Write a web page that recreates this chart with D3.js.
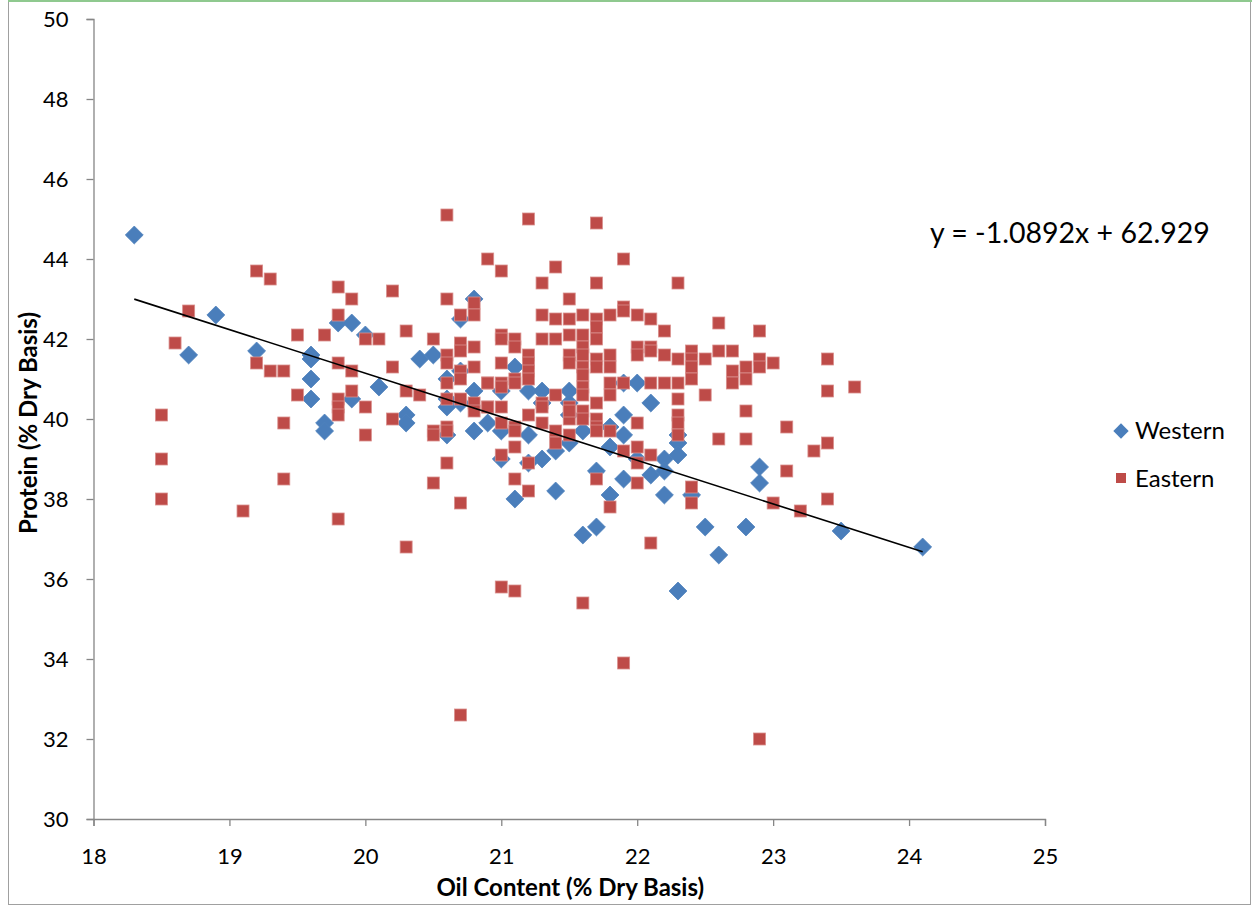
<!DOCTYPE html>
<html>
<head>
<meta charset="utf-8">
<script src="https://cdn.jsdelivr.net/npm/d3@7"></script>
<style>
  body { margin: 0; background: #fff; }
  text { font-family: Lato, "Open Sans", sans-serif; fill: #000; }
</style>
</head>
<body>
<div id="chart"></div>
<script>
// Western samples [oil, protein]
var western = [
  [18.3,44.6],[18.7,41.6],[18.9,42.6],[19.2,41.7],[19.6,41.6],[19.6,41.5],[19.6,41.0],[19.6,40.5],
  [19.7,39.9],[19.7,39.7],[19.8,42.4],[19.9,42.4],[19.9,40.5],[20.0,42.1],[20.1,40.8],[20.3,40.1],
  [20.3,39.9],[20.4,41.5],[20.5,41.6],[20.7,42.5],[20.8,43.0],[20.6,41.0],[20.7,41.2],[20.6,40.5],
  [20.7,40.4],[20.8,40.7],[20.6,40.3],[20.6,39.6],[20.8,39.7],[20.9,39.9],[21.1,41.3],[21.0,40.7],
  [21.2,40.7],[21.3,40.7],[21.3,40.4],[21.0,39.7],[21.2,39.6],[21.0,39.0],[21.2,38.9],[21.3,39.0],
  [21.4,39.2],[21.1,38.0],[21.4,38.2],[21.5,40.7],[21.5,40.1],[21.5,40.4],[21.6,39.7],[21.5,39.4],
  [21.8,39.8],[21.9,40.1],[21.9,39.6],[21.9,40.9],[22.0,40.9],[21.8,39.3],[21.7,38.7],[21.9,38.5],
  [21.8,38.1],[22.0,39.0],[22.1,38.6],[21.6,37.1],[21.7,37.3],[22.1,40.4],[22.3,39.6],[22.3,39.4],
  [22.3,39.1],[22.2,39.0],[22.2,38.7],[22.2,38.1],[22.4,38.1],[22.5,37.3],[22.6,36.6],[22.3,35.7],
  [22.9,38.8],[22.9,38.4],[22.8,37.3],[23.5,37.2],[24.1,36.8]
];

// Eastern samples [oil, protein]
var eastern = [
  [19.2,43.7],[19.3,43.5],[18.7,42.7],[18.6,41.9],[18.5,40.1],[18.5,39.0],[18.5,38.0],[19.1,37.7],
  [19.2,41.4],[19.3,41.2],[19.4,41.2],[19.5,42.1],[19.7,42.1],[19.5,40.6],[19.4,39.9],[19.4,38.5],
  [19.8,43.3],[19.9,43.0],[19.8,42.6],[19.8,41.4],[19.9,41.2],[20.0,42.0],[20.1,42.0],[20.2,43.2],
  [20.3,42.2],[20.2,41.3],[20.3,40.7],[19.8,40.5],[19.8,40.3],[19.8,40.1],[19.9,40.7],[20.0,40.3],
  [20.0,39.6],[20.2,40.0],[19.8,37.5],[20.3,36.8],
  [20.9,44.0],[20.6,43.0],[20.5,42.0],[20.7,42.6],[20.8,42.9],[20.8,42.6],[20.7,41.9],[20.7,41.7],
  [20.6,41.6],[20.6,41.4],[20.8,41.8],[20.8,41.3],[20.7,41.2],[20.7,41.0],[20.6,40.9],[20.9,40.9],
  [20.4,40.6],[20.6,40.5],[20.7,40.5],[20.8,40.4],[20.8,40.2],[20.9,40.3],[20.5,39.7],[20.5,39.6],
  [20.6,39.8],[20.6,39.7],[20.6,38.9],[20.5,38.4],[20.7,37.9],
  [20.6,45.1],[21.2,45.0],[21.7,44.9],[21.0,43.7],[21.4,43.8],[21.3,43.4],[21.7,43.4],[21.9,44.0],
  [21.5,43.0],[21.3,42.6],[21.4,42.5],[21.5,42.5],[21.0,42.1],[21.0,42.0],[21.1,42.0],[21.1,41.8],
  [21.3,42.0],[21.4,42.0],[21.5,42.1],[21.2,41.6],[21.2,41.4],[21.2,41.2],[21.2,41.0],[21.0,41.4],
  [21.5,41.6],[21.5,41.4],[20.9,40.9],[21.0,40.9],[21.0,40.8],[21.1,41.0],[21.1,40.9],[21.4,40.6],
  [21.3,40.4],[21.3,40.3],[20.9,40.3],[21.0,40.3],[21.0,39.9],[21.1,39.8],[21.1,39.7],[21.2,40.1],
  [21.3,39.9],[21.4,39.7],[21.4,39.4],[21.5,40.3],[21.5,40.0],[21.5,39.6],[21.1,39.3],[21.0,39.1],
  [21.2,38.9],[21.1,38.5],[21.2,38.2],[21.0,35.8],[21.1,35.7],
  [21.6,42.6],[21.7,42.5],[21.7,42.3],[21.7,42.0],[21.8,42.6],[21.9,42.8],[21.9,42.7],[22.0,42.6],
  [22.1,42.5],[21.6,42.1],[21.6,41.8],[21.6,41.6],[21.6,41.3],[21.6,41.1],[21.6,40.8],[21.6,40.6],
  [21.7,41.5],[21.7,41.3],[21.8,41.6],[21.8,41.3],[22.0,41.8],[22.0,41.6],[22.1,41.8],[21.8,40.9],
  [21.8,40.6],[21.9,40.9],[22.1,40.9],[21.5,40.2],[21.6,40.2],[21.6,40.0],[21.7,40.4],[21.7,40.0],
  [21.7,39.8],[21.7,39.7],[21.8,39.7],[22.0,39.9],[21.9,39.2],[22.0,39.3],[22.0,38.9],[22.1,39.1],
  [21.7,38.5],[22.0,38.4],[21.8,37.8],[22.1,36.9],[21.6,35.4],
  [22.3,43.4],[22.2,42.2],[22.6,42.4],[22.1,41.7],[22.2,41.6],[22.3,41.5],[22.4,41.7],[22.4,41.5],
  [22.4,41.3],[22.4,41.0],[22.5,41.5],[22.6,41.7],[22.7,41.7],[22.7,41.2],[22.7,40.9],[22.2,40.9],
  [22.3,40.9],[22.3,40.5],[22.5,40.6],[22.3,40.1],[22.3,39.9],[22.3,39.6],[22.6,39.5],[22.4,38.3],
  [22.4,37.9],[22.9,42.2],[22.8,41.3],[22.8,41.0],[22.9,41.5],[22.9,41.3],[23.0,41.4],[22.8,40.2],
  [22.8,39.5],[23.1,39.8],[23.1,38.7],[23.3,39.2],[23.0,37.9],[23.2,37.7],[23.4,41.5],[23.4,40.7],
  [23.6,40.8],[23.4,39.4],[23.4,38.0],[22.9,32.0],[20.7,32.6],[21.9,33.9]
];

var xTicks = [18, 19, 20, 21, 22, 23, 24, 25];
var yTicks = [30, 32, 34, 36, 38, 40, 42, 44, 46, 48, 50];
var slope = -1.0892, intercept = 62.929;
var seriesNames = ["Western", "Eastern"];

var W = 1252, H = 909;
var margin = {top: 19, right: 207, bottom: 90, left: 93.5};

var svg = d3.select("#chart").append("svg")
  .attr("width", W).attr("height", H);

// outer frame
svg.append("rect")
  .attr("x", 8.5).attr("y", 1.5).attr("width", W - 10).attr("height", H - 6)
  .attr("fill", "none").attr("stroke", "#a0a0a0").attr("stroke-width", 1);
svg.append("line")
  .attr("x1", 8).attr("x2", W).attr("y1", 1).attr("y2", 1)
  .attr("stroke", "#8fc98f").attr("stroke-width", 2);

var x = d3.scaleLinear().domain([18, 25]).range([margin.left, W - margin.right]);
var y = d3.scaleLinear().domain([30, 50]).range([H - margin.bottom, margin.top]);

// axes
var xAxis = svg.append("g")
  .attr("transform", "translate(0," + y(30) + ")")
  .call(d3.axisBottom(x).tickValues(xTicks).tickSize(7).tickPadding(22).tickFormat(d3.format("d")));
var yAxis = svg.append("g")
  .attr("transform", "translate(" + x(18) + ",0)")
  .call(d3.axisLeft(y).tickValues(yTicks).tickSize(7).tickPadding(18).tickFormat(d3.format("d")));

[xAxis, yAxis].forEach(function(g) {
  g.attr("font-size", 22);
  g.select(".domain").attr("stroke", "#868686").attr("stroke-width", 1.3);
  g.selectAll(".tick line").attr("stroke", "#868686").attr("stroke-width", 1.3);
  g.selectAll(".tick text").style("font-size", "22px").style("fill", "#000");
});

// axis titles
svg.append("text")
  .attr("x", (x(18) + x(25)) / 2 + 1).attr("y", 896)
  .attr("text-anchor", "middle")
  .style("font-size", "24px").style("font-weight", "bold")
  .text("Oil Content (% Dry Basis)");
svg.append("text")
  .attr("transform", "translate(37," + (y(40) + 4) + ") rotate(-90)")
  .attr("text-anchor", "middle")
  .style("font-size", "24px").style("font-weight", "bold")
  .text("Protein (% Dry Basis)");

// markers
var diamond = d3.symbol().type(d3.symbolDiamond2).size(205);
svg.append("g").selectAll("path")
  .data(western)
  .enter().append("path")
  .attr("d", diamond)
  .attr("transform", function(d) { return "translate(" + x(d[0]) + "," + y(d[1]) + ")"; })
  .attr("fill", "#4a7ebb")
  .attr("stroke", "#4f81bd").attr("stroke-width", 0.8);

var sq = 12;
svg.append("g").selectAll("rect")
  .data(eastern)
  .enter().append("rect")
  .attr("x", function(d) { return x(d[0]) - sq / 2; })
  .attr("y", function(d) { return y(d[1]) - sq / 2; })
  .attr("width", sq).attr("height", sq)
  .attr("fill", "#be4b48")
  .attr("stroke", "#d98f8d").attr("stroke-width", 0.8);

// trendline over the range of the western data
var xr = d3.extent(western, function(d) { return d[0]; });
svg.append("line")
  .attr("x1", x(xr[0])).attr("y1", y(slope * xr[0] + intercept))
  .attr("x2", x(xr[1])).attr("y2", y(slope * xr[1] + intercept))
  .attr("stroke", "#000").attr("stroke-width", 1.6);

svg.append("text")
  .attr("x", 930).attr("y", 243)
  .style("font-size", "28.5px")
  .text("y = " + slope + "x + " + intercept);

// legend
var legend = svg.append("g");
legend.append("path")
  .attr("d", d3.symbol().type(d3.symbolDiamond2).size(150))
  .attr("transform", "translate(1121,431)")
  .attr("fill", "#4a7ebb");
legend.append("rect")
  .attr("x", 1116).attr("y", 473).attr("width", 10).attr("height", 10)
  .attr("fill", "#be4b48");
legend.selectAll("text")
  .data(seriesNames)
  .enter().append("text")
  .attr("x", 1135)
  .attr("y", function(d, i) { return 439 + i * 48; })
  .style("font-size", "24px")
  .text(function(d) { return d; });
</script>
</body>
</html>
